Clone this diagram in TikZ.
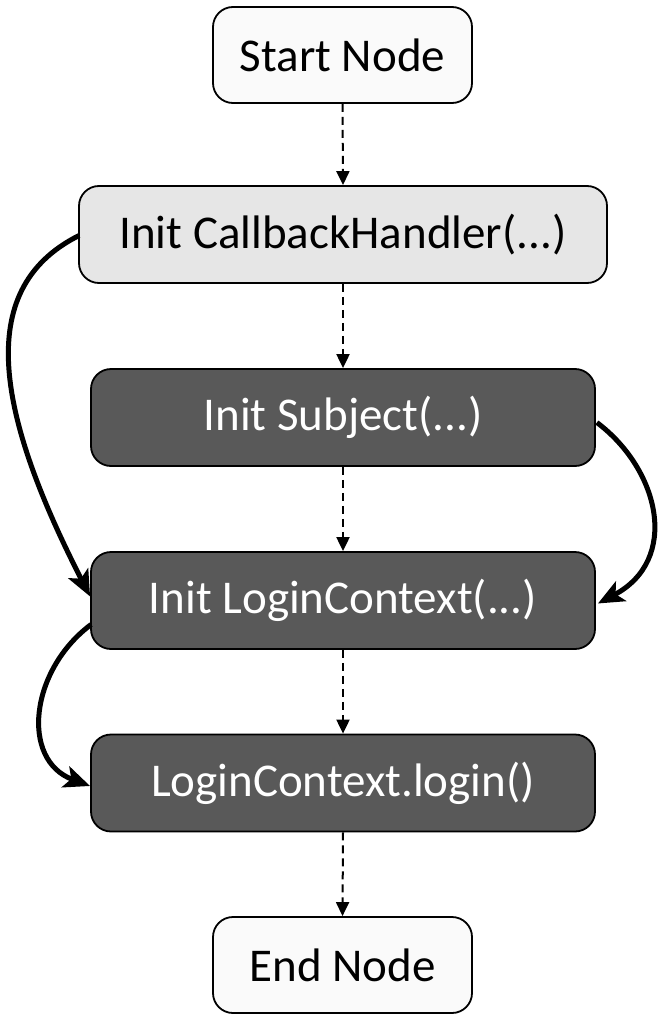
\documentclass[tikz,border=0pt]{standalone}
\usepackage{fontspec}
\setmainfont{Carlito}
\usetikzlibrary{arrows.meta}
\definecolor{darkbox}{HTML}{595959}
\definecolor{lightbox}{HTML}{E6E6E6}
\definecolor{paperbox}{HTML}{FAFAFA}
\tikzset{
  basebox/.style={draw=black, line width=1.8pt, rounded corners=20pt, inner sep=0pt,
    font=\fontsize{47}{56}\selectfont, anchor=center},
  termbox/.style={basebox, fill=paperbox, text=black, minimum width=259pt, minimum height=96pt},
  lightstep/.style={basebox, fill=lightbox, text=black, minimum width=528pt, minimum height=97pt},
  darkstep/.style={basebox, fill=darkbox, text=white, minimum width=504pt, minimum height=97pt},
  flowarrow/.style={line width=2pt, dash pattern=on 8pt off 5pt, -{Triangle[length=14pt,width=13pt]}},
  jumparrow/.style={line width=5pt, -{Stealth[length=26pt,width=22pt,inset=6pt]}}
}
\begin{document}
\begin{tikzpicture}[x=1pt,y=-1pt]
\useasboundingbox (0,0) rectangle (664,1022);
\node[termbox] (start) at (342.5,55) {Start Node};
\node[lightstep] (cb) at (343,234.5) {Init CallbackHandler(...)};
\node[darkstep] (subj) at (343,417.5) {Init Subject(...)};
\node[darkstep] (lc) at (343,600.5) {Init LoginContext(...)};
\node[darkstep] (login) at (343,783) {LoginContext.login()};
\node[termbox] (end) at (342.5,965) {End Node};

\draw[flowarrow] (start.south) -- (cb.north);
\draw[flowarrow] (cb.south) -- (subj.north);
\draw[flowarrow] (subj.south) -- (lc.north);
\draw[flowarrow] (lc.south) -- (login.north);
\draw[flowarrow] (login.south) -- (end.north);

\draw[jumparrow] ([xshift=1pt,yshift=-1pt]cb.west) .. controls (-30,290) and (0,420) .. ([yshift=4pt]lc.west);
\draw[jumparrow] ([xshift=1pt,yshift=-5pt]subj.east) .. controls (660,470) and (680,560) .. ([xshift=2pt,yshift=-3pt]lc.east);
\draw[jumparrow] ([xshift=1pt,yshift=-24pt]lc.west) .. controls (30,670) and (20,760) .. ([yshift=-3pt]login.west);
\end{tikzpicture}
\end{document}
